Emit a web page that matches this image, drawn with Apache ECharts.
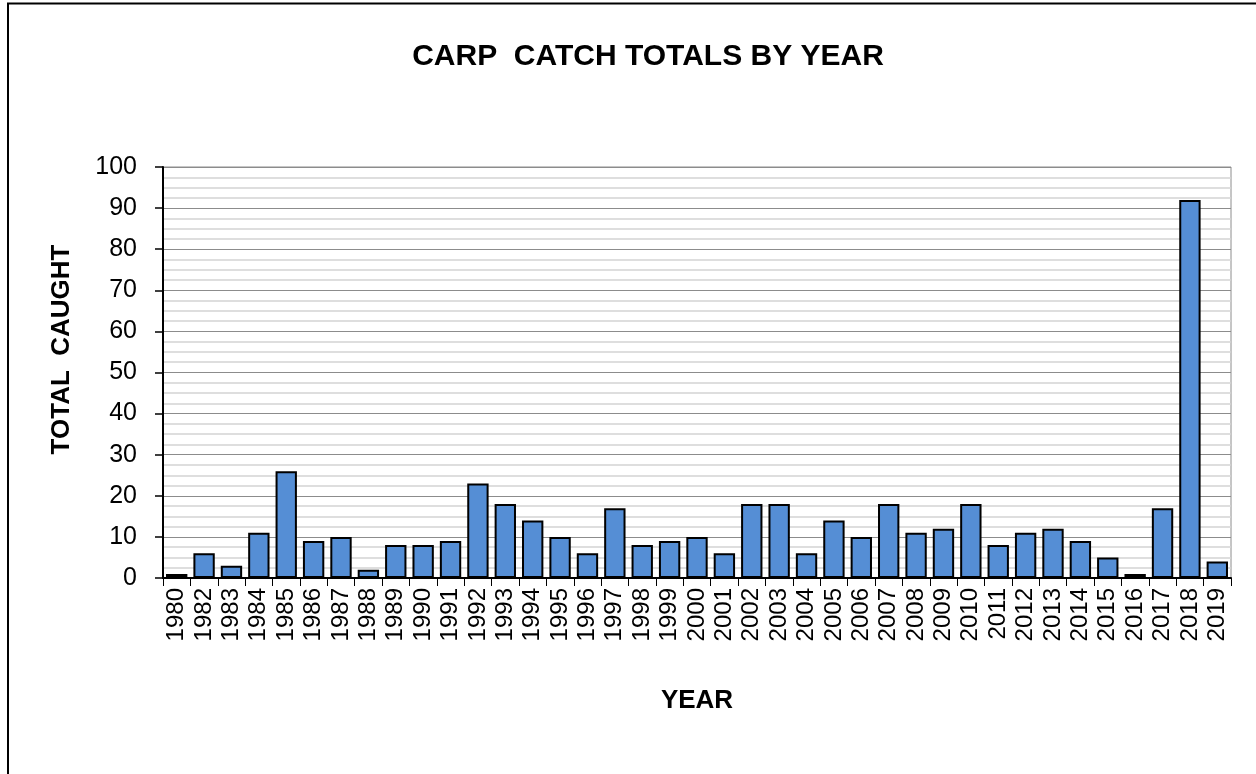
<!DOCTYPE html>
<html>
<head>
<meta charset="utf-8">
<script src="https://cdn.jsdelivr.net/npm/echarts@6/dist/echarts.min.js"></script>
<style>
  html, body { margin: 0; padding: 0; background: #fff; }
  #main { width: 1256px; height: 774px; }
</style>
</head>
<body>
<div id="main"></div>
<script>
    // data
    var years = ['1980', '1982', '1983', '1984', '1985', '1986', '1987', '1988', '1989', '1990',
        '1991', '1992', '1993', '1994', '1995', '1996', '1997', '1998', '1999', '2000',
        '2001', '2002', '2003', '2004', '2005', '2006', '2007', '2008', '2009', '2010',
        '2011', '2012', '2013', '2014', '2015', '2016', '2017', '2018', '2019'];
    var totals = [1, 6, 3, 11, 26, 9, 10, 2, 8, 8,
        9, 23, 18, 14, 10, 6, 17, 8, 9, 10,
        6, 18, 18, 6, 14, 10, 18, 11, 12, 18,
        8, 11, 12, 9, 5, 1, 17, 92, 4];
    var yTicks = [0, 100, 10];

    var myChart = echarts.init(document.getElementById('main'));

    var font = 'Liberation Sans, Arial, sans-serif';

    var option = {
        animation: false,
        backgroundColor: '#fff',
        title: {
            text: 'CARP  CATCH TOTALS BY YEAR',
            left: 643,
            top: 37,
            textAlign: 'center',
            textStyle: {
                color: '#000',
                fontFamily: font,
                fontWeight: 'bold',
                fontSize: 30
            }
        },
        graphic: [{
            type: 'rect',
            shape: { x: 8, y: 3.5, width: 1400, height: 900 },
            style: { fill: 'none', stroke: '#000', lineWidth: 2 },
            silent: true
        }],
        grid: {
            left: 163,
            right: 25,
            top: 167,
            bottom: 196,
            show: true,
            borderColor: '#8c8c8c',
            borderWidth: 1
        },
        xAxis: {
            type: 'category',
            data: years,
            name: 'YEAR',
            nameLocation: 'middle',
            nameGap: 110,
            nameTextStyle: {
                color: '#000',
                fontFamily: font,
                fontWeight: 'bold',
                fontSize: 26
            },
            axisLine: { lineStyle: { color: '#000', width: 2 } },
            axisTick: { show: true, length: 8, lineStyle: { color: '#000', width: 1 } },
            axisLabel: {
                rotate: 90,
                interval: 0,
                margin: 10,
                color: '#000',
                fontFamily: font,
                fontSize: 24
            }
        },
        yAxis: {
            type: 'value',
            min: yTicks[0],
            max: yTicks[1],
            interval: yTicks[2],
            name: 'TOTAL  CAUGHT',
            nameLocation: 'middle',
            nameRotate: 90,
            nameGap: 88,
            nameTextStyle: {
                color: '#000',
                fontFamily: font,
                fontWeight: 'bold',
                fontSize: 26,
                padding: [0, 0, 0, 46]
            },
            axisLine: { show: true, lineStyle: { color: '#000', width: 2 } },
            axisTick: { show: true, length: 8, lineStyle: { color: '#000', width: 1.5 } },
            axisLabel: {
                margin: 26,
                color: '#000',
                fontFamily: font,
                fontSize: 25
            },
            splitLine: { show: true, lineStyle: { color: '#8c8c8c', width: 1 } },
            minorTick: { show: false, splitNumber: 4 },
            minorSplitLine: { show: true, lineStyle: { color: '#d4d4d4', width: 1.5 } }
        },
        series: [{
            type: 'bar',
            data: totals,
            barCategoryGap: '22%',
            itemStyle: {
                color: '#558ED5',
                borderColor: '#000',
                borderWidth: 2
            }
        }]
    };

    myChart.setOption(option);
</script>
</body>
</html>
